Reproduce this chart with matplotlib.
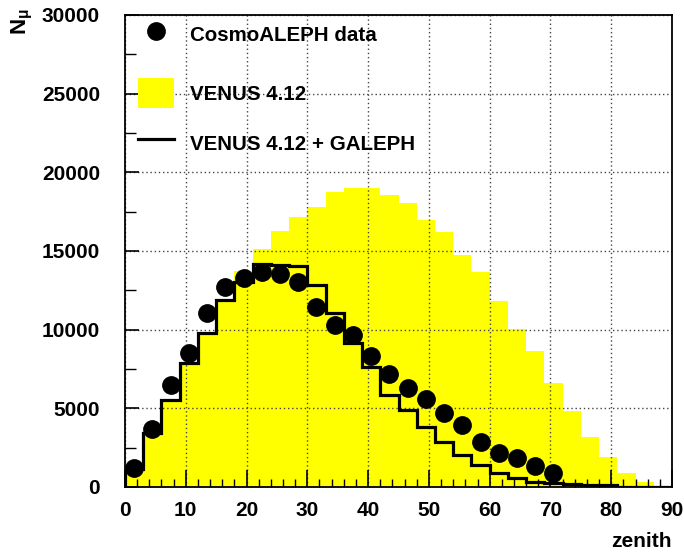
import numpy as np
import matplotlib
matplotlib.use("Agg")
import matplotlib.pyplot as plt
from matplotlib.patches import Patch
from matplotlib.lines import Line2D

plt.rcParams['font.family'] = ['Liberation Sans', 'DejaVu Sans']
plt.rcParams['mathtext.fontset'] = 'custom'
plt.rcParams['mathtext.rm'] = 'Liberation Sans:bold'
plt.rcParams['mathtext.it'] = 'Liberation Sans:bold'

# bin edges (zenith, degrees)
bin_edges = np.arange(0, 91, 3)

# VENUS 4.12 (yellow filled histogram), one value per 3-degree bin
venus = [1050, 3350, 5450, 7750, 9700, 11850, 13700, 15150, 16300, 17180,
         17820, 18770, 18990, 18990, 18560, 18040, 16970, 16230, 14750, 13690,
         11850, 10050, 8650, 6600, 4820, 3200, 1880, 870, 340, 0]

# VENUS 4.12 + GALEPH (black step line)
venus_galeph = [1150, 3410, 5530, 7860, 9770, 11890, 13050, 14150, 14100, 14050,
                12840, 11040, 9130, 7650, 5850, 4900, 3830, 2880, 2030, 1400,
                870, 550, 340, 270, 200, 150, 100, 0, 0, 0]

# CosmoALEPH data points
data_x = [1.5, 4.5, 7.5, 10.5, 13.5, 16.5, 19.5, 22.5, 25.5, 28.5, 31.5, 34.5,
          37.5, 40.5, 43.5, 46.5, 49.5, 52.5, 55.5, 58.5, 61.5, 64.5, 67.5, 70.5]
data_y = [1190, 3690, 6480, 8500, 11040, 12730, 13260, 13690, 13540, 13050, 11460, 10300,
          9660, 8340, 7180, 6270, 5570, 4720, 3940, 2880, 2180, 1860, 1350, 870]

legend_labels = ["CosmoALEPH data", "VENUS 4.12", "VENUS 4.12 + GALEPH"]

fig = plt.figure(figsize=(6.84, 5.56), dpi=100)
ax = fig.add_axes([125/684, 69/556, 547/684, 472/556])

ax.stairs(venus, bin_edges, fill=True, color='#ffff00', linewidth=0, zorder=1)
ax.stairs(venus_galeph, bin_edges, color='black', linewidth=2.3, zorder=3)
ax.plot(data_x, data_y, 'o', color='black', markersize=12.5, zorder=4)

ax.set_xlim(0, 90)
ax.set_ylim(0, 30000)
ax.set_xticks(np.arange(0, 91, 10))
ax.set_xticks(np.arange(0, 91, 2), minor=True)
ax.set_yticks(np.arange(0, 30001, 5000))
ax.set_yticks(np.arange(0, 30001, 2500), minor=True)

ax.grid(True, which='major', color='#444444', linestyle=(0, (1.0, 2.0)), linewidth=1.0, zorder=2)
ax.set_axisbelow(False)
for s in ax.spines.values():
    s.set_linewidth(1.3)
    s.set_zorder(5)

ax.tick_params(axis='x', which='major', direction='in', length=12, width=1.2, pad=10,
               labelsize=15, top=False)
ax.tick_params(axis='x', which='minor', direction='in', length=6, width=1.0, top=False)
ax.tick_params(axis='y', which='major', direction='in', length=10, width=1.2, pad=18,
               labelsize=15, right=False)
ax.tick_params(axis='y', which='minor', direction='in', length=8, width=1.0, right=False)
for lab in ax.get_xticklabels() + ax.get_yticklabels():
    lab.set_fontweight('bold')

fig.text(672/684, 1 - 547/556, "zenith", ha='right', va='baseline', fontsize=15, fontweight='bold')
fig.text(22/684, 1 - 8/556, r"$\mathregular{N_{\mu}}$", rotation=90, ha='center', va='top',
         fontsize=16, fontweight='bold')

h_data = Line2D([], [], marker='o', linestyle='none', color='black', markersize=12.5)
h_venus = Patch(facecolor='#ffff00', edgecolor='none')
h_line = Line2D([], [], color='black', linewidth=2.3)

leg1 = ax.legend([h_data], legend_labels[:1], loc='upper left', bbox_to_anchor=(0.008, 1.004),
                 frameon=False, prop={'size': 14.8, 'weight': 'bold'}, handlelength=1.75,
                 handleheight=1.6, handletextpad=0.8, borderaxespad=0.0)
leg1.set_zorder(6)
ax.add_artist(leg1)
leg2 = ax.legend([h_venus, h_line], legend_labels[1:], loc='upper left', bbox_to_anchor=(0.008, 0.885),
                 frameon=False, prop={'size': 14.8, 'weight': 'bold'}, handlelength=1.75,
                 handleheight=1.94, handletextpad=0.8, labelspacing=0.95, borderaxespad=0.0)
leg2.set_zorder(6)

fig.savefig("out.png", dpi=100, facecolor='white')
